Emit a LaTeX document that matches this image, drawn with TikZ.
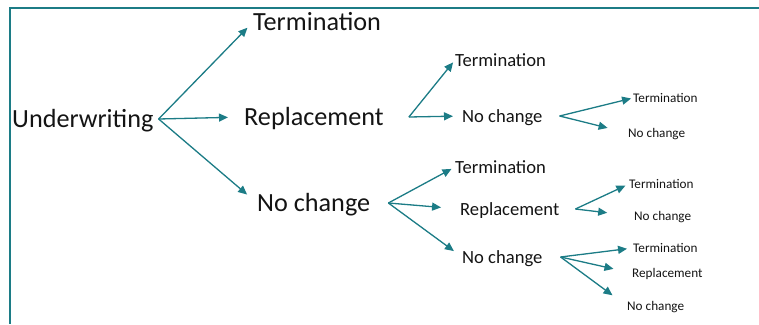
\documentclass[tikz,border=0pt]{standalone}
\usepackage{fontspec}
\setmainfont{Carlito}
\usetikzlibrary{arrows.meta}
\definecolor{tealline}{RGB}{28,124,134}
\definecolor{ink}{RGB}{20,20,20}
\tikzset{
    label/.style={anchor=west, inner sep=0pt, text=ink, text depth=0pt},
    big/.style={label, text height=17pt, font=\fontsize{26.2}{30}\selectfont},
    mid/.style={label, text height=12pt, font=\fontsize{18.6}{22}\selectfont},
    small/.style={label, text height=8.6pt, font=\fontsize{13.2}{15}\selectfont},
    flow/.style={-{Triangle[length=9pt, width=8pt]}, draw=tealline,
                 fill=tealline, line width=1.3pt},
    boxline/.style={color=tealline, line width=2pt},
}
\begin{document}
\begin{tikzpicture}[x=1pt, y=-1pt]

    \useasboundingbox (0,0) rectangle (759,324);
    \draw[boxline] (759,7.5) -- (9.5,7.5) -- (9.5,324);

    \node[big] (uw) at (12,119) {Underwriting};
    \node[big] (t1) at (253,22) {Termination};
    \node[big] (r1) at (244,117) {Replacement};
    \node[big] (n1) at (257,203) {No change};

    \node[mid] (r1t) at (455,60) {Termination};
    \node[mid] (r1n) at (462,116) {No change};
    \node[small] (r1nt) at (633,98) {Termination};
    \node[small] (r1nn) at (628,133) {No change};

    \node[mid] (n1t) at (455,167) {Termination};
    \node[mid] (n1r) at (460,209) {Replacement};
    \node[mid] (n1n) at (462,257) {No change};
    \node[small] (n1rt) at (629,184) {Termination};
    \node[small] (n1rn) at (634,216) {No change};
    \node[small] (n1nt) at (633,248) {Termination};
    \node[small] (n1nr) at (632,273) {Replacement};
    \node[small] (n1nn) at (627,306) {No change};

    \coordinate (j0) at ([xshift=5pt]uw.east);
    \coordinate (j1) at ([xshift=25pt]r1.east);
    \coordinate (j2) at ([xshift=17pt]r1n.east);
    \coordinate (j3) at ([xshift=18pt]n1.east);
    \coordinate (j4) at ([xshift=16pt]n1r.east);
    \coordinate (j5) at ([xshift=18pt]n1n.east);

    \draw[flow, shorten >=8pt] (j0) -- (t1.west);
    \draw[flow, shorten >=16pt] (j0) -- (r1.west);
    \draw[flow, shorten >=13pt] (j0) -- (n1.west);
    \draw[flow, shorten >=3pt] (j1) -- (r1t.west);
    \draw[flow, shorten >=9pt] (j1) -- (r1n.west);
    \draw[flow, shorten >=2pt] (j2) -- (r1nt.west);
    \draw[flow, shorten >=21pt] (j2) -- (r1nn.west);
    \draw[flow, shorten >=4pt] (j3) -- (n1t.west);
    \draw[flow, shorten >=19pt] (j3) -- (n1r.west);
    \draw[flow, shorten >=10pt] (j3) -- (n1n.west);
    \draw[flow, shorten >=4pt] (j4) -- (n1rt.west);
    \draw[flow, shorten >=27pt] (j4) -- (n1rn.west);
    \draw[flow, shorten >=6pt] (j5) -- (n1nt.west);
    \draw[flow, shorten >=19pt] (j5) -- (n1nr.west);
    \draw[flow, shorten >=18pt] (j5) -- (n1nn.west);

\end{tikzpicture}
\end{document}
